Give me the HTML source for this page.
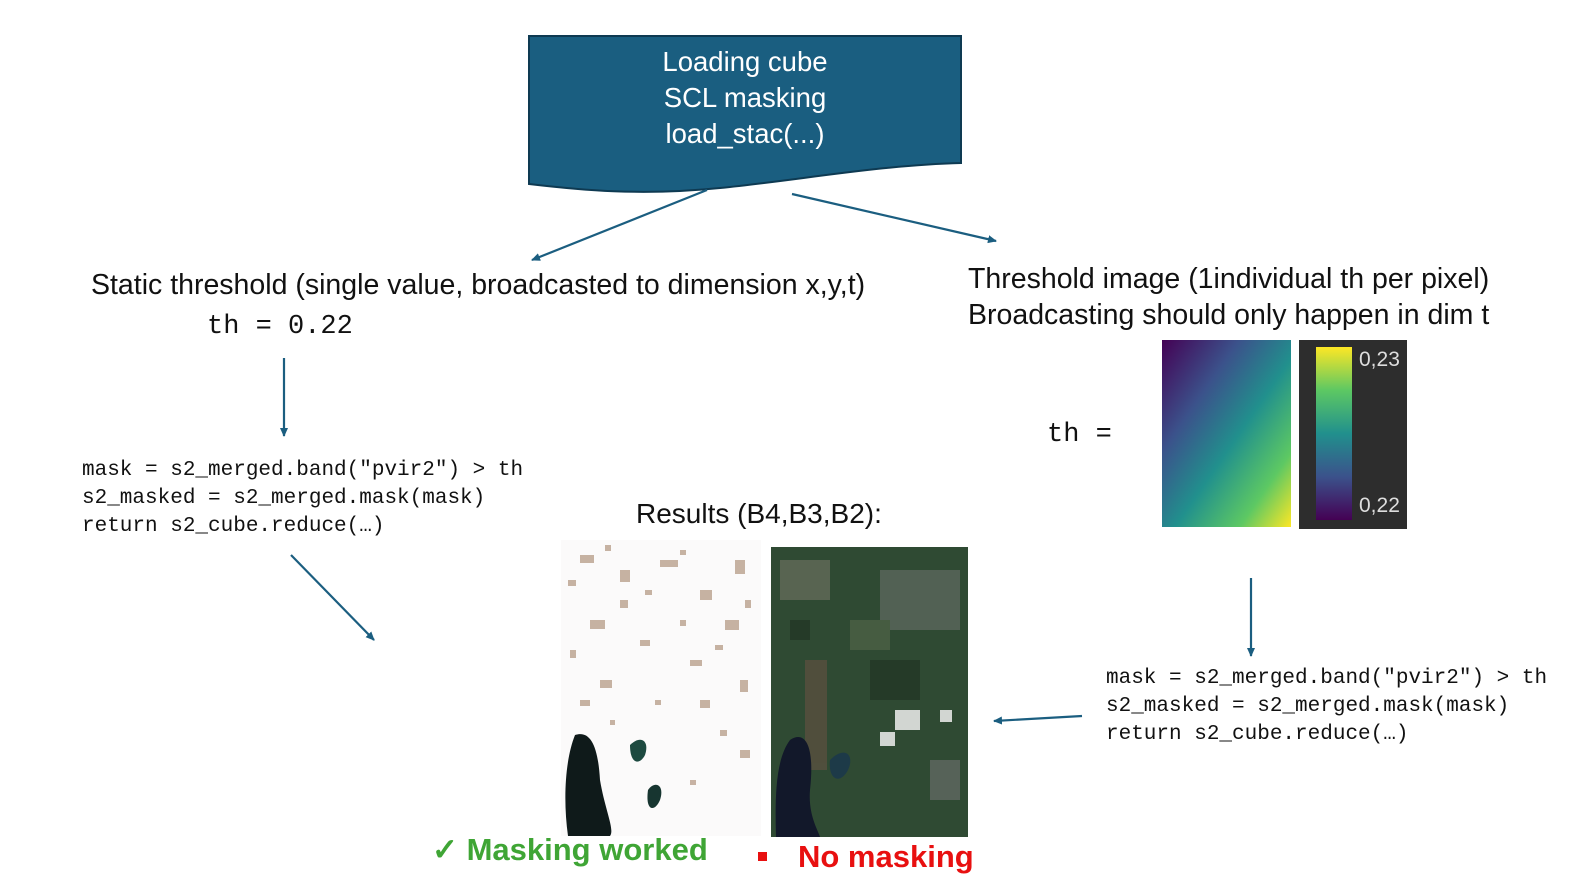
<!DOCTYPE html>
<html><head><meta charset="utf-8"><style>
body{margin:0;width:1584px;height:882px;background:#fff;position:relative;overflow:hidden;font-family:"Liberation Sans",sans-serif}
.t{position:absolute;white-space:nowrap;color:#111}
.m{font-family:"Liberation Mono",monospace;font-size:21px;line-height:28px}
</style></head><body>
<svg width="1584" height="882" style="position:absolute;left:0;top:0">
<defs>
<marker id="a" markerWidth="10" markerHeight="10" refX="8" refY="5" orient="auto" markerUnits="userSpaceOnUse"><path d="M0,1 L9,5 L0,9z" fill="#1b5e80"/></marker>
<linearGradient id="v1" x1="0" y1="0" x2="1" y2="1"><stop offset="0" stop-color="#440154"/><stop offset="0.3" stop-color="#3b528b"/><stop offset="0.55" stop-color="#21908d"/><stop offset="0.8" stop-color="#5dc863"/><stop offset="1" stop-color="#fde725"/></linearGradient>
<linearGradient id="v2" x1="0" y1="1" x2="0" y2="0"><stop offset="0" stop-color="#440154"/><stop offset="0.25" stop-color="#3b528b"/><stop offset="0.5" stop-color="#21908d"/><stop offset="0.75" stop-color="#5dc863"/><stop offset="1" stop-color="#fde725"/></linearGradient>
</defs>
<path d="M529,36 H961 V163 C880,165 800,180 720,188 C640,196 580,190 529,184 Z" fill="#1a5e80" stroke="#0e3a52" stroke-width="2"/>
<g stroke="#1b5e80" stroke-width="2.2" fill="none" marker-end="url(#a)">
<line x1="707" y1="190" x2="532" y2="260"/>
<line x1="792" y1="194" x2="996" y2="241"/>
<line x1="284" y1="358" x2="284" y2="436"/>
<line x1="291" y1="555" x2="374" y2="640"/>
<line x1="1251" y1="578" x2="1251" y2="656"/>
<line x1="1082" y1="716" x2="994" y2="721"/>
</g>
<rect x="1162" y="340" width="129" height="187" fill="url(#v1)"/>
<rect x="1299" y="340" width="108" height="189" fill="#2d2d2d"/>
<rect x="1316" y="347" width="36" height="173" fill="url(#v2)"/>
<rect x="561" y="540" width="200" height="296" fill="#fbfafa"/>
<g fill="#b59a85" opacity="0.75">
<rect x="580" y="555" width="14" height="8"/><rect x="620" y="570" width="10" height="12"/><rect x="660" y="560" width="18" height="7"/><rect x="700" y="590" width="12" height="10"/><rect x="590" y="620" width="15" height="9"/><rect x="640" y="640" width="10" height="6"/><rect x="725" y="620" width="14" height="10"/><rect x="600" y="680" width="12" height="8"/><rect x="700" y="700" width="10" height="8"/><rect x="740" y="680" width="8" height="12"/><rect x="580" y="700" width="10" height="6"/><rect x="690" y="660" width="12" height="6"/><rect x="620" y="600" width="8" height="8"/><rect x="735" y="560" width="10" height="14"/><rect x="740" y="750" width="10" height="8"/>
<rect x="568" y="580" width="8" height="6"/><rect x="605" y="545" width="6" height="6"/><rect x="645" y="590" width="7" height="5"/><rect x="680" y="620" width="6" height="6"/><rect x="715" y="645" width="8" height="5"/><rect x="570" y="650" width="6" height="8"/><rect x="655" y="700" width="6" height="5"/><rect x="720" y="730" width="7" height="6"/><rect x="690" y="780" width="6" height="5"/><rect x="745" y="600" width="6" height="8"/><rect x="610" y="720" width="5" height="5"/><rect x="680" y="550" width="6" height="5"/>
</g>
<path d="M575,735 C590,730 598,745 600,780 C605,810 615,830 610,836 H568 C563,800 565,760 575,735Z" fill="#0f1a1a"/>
<path d="M630,745 C640,735 650,740 645,755 C640,765 630,765 630,745Z" fill="#1d4a40"/>
<path d="M648,790 C655,780 665,785 660,800 C655,812 645,812 648,790Z" fill="#173530"/>
<rect x="771" y="547" width="197" height="290" fill="#2f4a33"/>
<g opacity="0.55"><rect x="780" y="560" width="50" height="40" fill="#7a7a6a"/><rect x="880" y="570" width="80" height="60" fill="#6f7570"/><rect x="805" y="660" width="22" height="110" fill="#6b5345"/><rect x="850" y="620" width="40" height="30" fill="#5a6b4e"/><rect x="930" y="760" width="30" height="40" fill="#777"/><rect x="790" y="620" width="20" height="20" fill="#1d2e20"/><rect x="870" y="660" width="50" height="40" fill="#1d2e20"/></g>
<g fill="#e4e6e4" opacity="0.9"><rect x="895" y="710" width="25" height="20"/><rect x="880" y="732" width="15" height="14"/><rect x="940" y="710" width="12" height="12"/></g>
<path d="M790,740 C805,730 815,745 810,790 C808,815 818,830 820,837 H776 C775,800 775,760 790,740Z" fill="#12182a"/>
<path d="M830,760 C845,745 855,755 848,770 C840,785 828,780 830,760Z" fill="#1d3a48"/>
<rect x="758" y="852" width="9" height="9" fill="#e81010"/>
</svg>
<div class="t" style="left:529px;top:44px;width:432px;text-align:center;color:#fff;font-size:27.5px;line-height:36px">Loading cube<br>SCL masking<br>load_stac(...)</div>
<div class="t" style="left:91px;top:269px;font-size:28.5px">Static threshold (single value, broadcasted to dimension x,y,t)</div>
<div class="t" style="left:207px;top:312px;font-family:'Liberation Mono',monospace;font-size:27px">th = 0.22</div>
<div class="t" style="left:968px;top:261px;font-size:28.5px;line-height:36px">Threshold image (1individual th per pixel)<br>Broadcasting should only happen in dim t</div>
<div class="t" style="left:1047px;top:420px;font-family:'Liberation Mono',monospace;font-size:27px">th =</div>
<div class="t" style="left:1359px;top:348px;color:#ddd;font-size:21px">0,23</div>
<div class="t" style="left:1359px;top:494px;color:#ddd;font-size:21px">0,22</div>
<div class="t m" style="left:82px;top:457px">mask = s2_merged.band("pvir2") &gt; th<br>s2_masked = s2_merged.mask(mask)<br>return s2_cube.reduce(…)</div>
<div class="t m" style="left:1106px;top:665px">mask = s2_merged.band("pvir2") &gt; th<br>s2_masked = s2_merged.mask(mask)<br>return s2_cube.reduce(…)</div>
<div class="t" style="left:636px;top:498px;font-size:28px">Results (B4,B3,B2):</div>
<div class="t" style="left:432px;top:832px;font-size:31px;font-weight:bold;color:#3fa535">✓ Masking worked</div>
<div class="t" style="left:798px;top:839px;font-size:31px;font-weight:bold;color:#e81010">No masking</div>
</body></html>
